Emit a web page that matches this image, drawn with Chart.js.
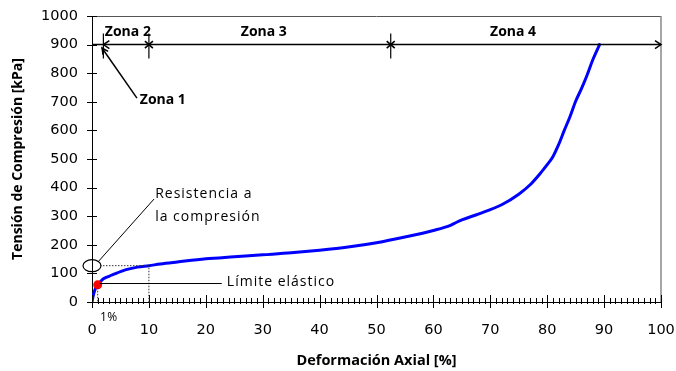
<!DOCTYPE html>
<html><head><meta charset="utf-8">
<script src="https://cdn.jsdelivr.net/npm/chart.js@4.4.0/dist/chart.umd.min.js"></script>
<style>html,body{margin:0;padding:0;background:#fff;}canvas{display:block;}</style>
</head><body>
<canvas id="c" width="676" height="371"></canvas>
<script>
// ---- data ----
const strainX = [0, 0.2, 0.5, 1, 1.5, 2, 3, 4, 5, 6, 8, 10, 12, 15, 20, 25, 30, 35, 40, 45, 50, 55, 60, 63, 64, 65, 68, 72, 75, 77, 79, 80, 81, 82, 83, 84, 85, 86, 87, 88, 89.3];
const stressY = [0, 20, 42, 60, 72, 81, 90, 98, 106, 113, 122, 127, 133, 140, 151, 158, 165, 172, 181, 192, 207, 227, 250, 268, 278, 287, 308, 340, 377, 410, 455, 480, 508, 550, 600, 648, 702, 745, 793, 846, 904];
const elasticLimit = [{x: 1, y: 60}];
const xTickValues = [0, 10, 20, 30, 40, 50, 60, 70, 80, 90, 100];
const yTickValues = [0, 100, 200, 300, 400, 500, 600, 700, 800, 900, 1000];
const zoneBounds = [0, 2, 10, 52.5, 100];
const zoneLevel = 900;
const zoneLabels = ['Zona 1', 'Zona 2', 'Zona 3', 'Zona 4'];
const zoneLabelX = [8.4, 6.3, 30.2, 74];
const zoneLabelY = [706, 944, 944, 944];
const zone1Arrow = [{x: 7.9, y: 713}, {x: 1.76, y: 888}];
const strength = {x: 10, y: 127};
const strengthLeader = [{x: 1.05, y: 140}, {x: 10.9, y: 360}];
const strengthText = ['Resistencia a', 'la compresión'];
const strengthTextPos = [{x: 11.1, y: 378}, {x: 11.1, y: 297}];
const elasticLeader = [{x: 1.4, y: 68}, {x: 22.8, y: 68}];
const elasticText = 'Límite elástico';
const elasticTextPos = {x: 23.7, y: 70};
const onePercentText = '1%';

const annot = {
  id: 'annot',
  afterDatasetsDraw(chart) {
    const {ctx, chartArea: a, scales: {x, y}} = chart;
    const X = v => x.getPixelForValue(v), Y = v => y.getPixelForValue(v);
    ctx.save();
    // frame top & right
    ctx.lineWidth = 1;
    ctx.strokeStyle = '#555';
    ctx.beginPath(); ctx.moveTo(a.left, a.top + 0.5); ctx.lineTo(a.right, a.top + 0.5); ctx.stroke();
    ctx.strokeStyle = '#888';
    ctx.lineWidth = 1.5;
    ctx.beginPath(); ctx.moveTo(a.right, a.top); ctx.lineTo(a.right, a.bottom); ctx.stroke();
    // axis ticks
    ctx.strokeStyle = '#000'; ctx.lineWidth = 1;
    yTickValues.forEach(v => {
      const py = Math.round(Y(v)) + 0.5;
      ctx.beginPath(); ctx.moveTo(a.left - 5, py); ctx.lineTo(a.left + 5, py); ctx.stroke();
    });
    for (let v = 0; v <= 100; v++) {
      const px = Math.round(X(v)) + 0.5;
      const major = v % 10 === 0;
      ctx.beginPath();
      ctx.moveTo(px, a.bottom - (major ? 7 : 4));
      ctx.lineTo(px, a.bottom + (major ? 6 : 2));
      ctx.stroke();
    }
    // zone line
    const zy = Y(zoneLevel);
    ctx.lineWidth = 1.5;
    ctx.beginPath(); ctx.moveTo(X(0), zy); ctx.lineTo(X(100), zy); ctx.stroke();
    ctx.beginPath(); ctx.moveTo(X(100) - 6, zy - 4); ctx.lineTo(X(100), zy); ctx.lineTo(X(100) - 6, zy + 4); ctx.stroke();
    const x2 = X(zoneBounds[1]);
    ctx.beginPath(); ctx.moveTo(x2 + 6, zy - 4); ctx.lineTo(x2, zy); ctx.lineTo(x2 + 6, zy + 4); ctx.stroke();
    ctx.lineWidth = 1.2;
    [1, 2, 3].forEach(i => {
      const px = X(zoneBounds[i]);
      ctx.beginPath(); ctx.moveTo(px, zy - 11); ctx.lineTo(px, zy + 14); ctx.stroke();
      if (i > 1) {
        ctx.lineWidth = 1.6;
        ctx.beginPath();
        ctx.moveTo(px - 4, zy - 3.5); ctx.lineTo(px + 4, zy + 3.5);
        ctx.moveTo(px + 4, zy - 3.5); ctx.lineTo(px - 4, zy + 3.5);
        ctx.stroke();
        ctx.lineWidth = 1.2;
      }
    });
    // zone 1 arrow
    const p0 = {x: X(zone1Arrow[0].x), y: Y(zone1Arrow[0].y)};
    const p1 = {x: X(zone1Arrow[1].x), y: Y(zone1Arrow[1].y)};
    ctx.lineWidth = 1.5;
    ctx.beginPath(); ctx.moveTo(p0.x, p0.y); ctx.lineTo(p1.x, p1.y); ctx.stroke();
    const ang = Math.atan2(p1.y - p0.y, p1.x - p0.x);
    ctx.beginPath();
    ctx.moveTo(p1.x - 7 * Math.cos(ang - 0.45), p1.y - 7 * Math.sin(ang - 0.45));
    ctx.lineTo(p1.x, p1.y);
    ctx.lineTo(p1.x - 7 * Math.cos(ang + 0.45), p1.y - 7 * Math.sin(ang + 0.45));
    ctx.stroke();
    // zone labels
    ctx.fillStyle = '#000';
    ctx.font = 'bold 14px "Open Sans"';
    ctx.textBaseline = 'middle';
    zoneLabels.forEach((t, i) => {
      ctx.textAlign = i === 0 ? 'left' : 'center';
      ctx.fillText(t, X(zoneLabelX[i]), Y(zoneLabelY[i]));
    });
    // strength ellipse & leader
    ctx.lineWidth = 1.2;
    ctx.beginPath(); ctx.ellipse(X(0), Y(strength.y), 9, 6, 0, 0, Math.PI * 2); ctx.stroke();
    ctx.lineWidth = 1;
    ctx.beginPath();
    ctx.moveTo(X(strengthLeader[0].x), Y(strengthLeader[0].y));
    ctx.lineTo(X(strengthLeader[1].x), Y(strengthLeader[1].y));
    ctx.stroke();
    // dotted guides
    ctx.setLineDash([1.5, 1.5]);
    ctx.strokeStyle = '#333';
    ctx.beginPath();
    ctx.moveTo(X(1.4), Y(strength.y)); ctx.lineTo(X(strength.x), Y(strength.y)); ctx.lineTo(X(strength.x), Y(0));
    ctx.moveTo(X(elasticLimit[0].x), Y(elasticLimit[0].y)); ctx.lineTo(X(elasticLimit[0].x), Y(0));
    ctx.stroke();
    ctx.setLineDash([]);
    ctx.strokeStyle = '#000';
    ctx.beginPath();
    ctx.moveTo(X(elasticLeader[0].x), Math.round(Y(elasticLeader[0].y)) + 0.5);
    ctx.lineTo(X(elasticLeader[1].x), Math.round(Y(elasticLeader[1].y)) + 0.5);
    ctx.stroke();
    // texts
    ctx.font = '14px "Open Sans"';
    ctx.letterSpacing = '1px';
    ctx.textAlign = 'left';
    strengthText.forEach((t, i) => ctx.fillText(t, X(strengthTextPos[i].x), Y(strengthTextPos[i].y)));
    ctx.fillText(elasticText, X(elasticTextPos.x), Y(elasticTextPos.y));
    ctx.font = '12px "Open Sans"';
    ctx.letterSpacing = '0.5px';
    ctx.fillText(onePercentText, X(1.4), Y(0) + 16);
    ctx.restore();
  }
};

new Chart(document.getElementById('c'), {
  data: {
    datasets: [
      {type: 'scatter', data: elasticLimit, pointRadius: 4.5, pointBackgroundColor: '#ff0000', pointBorderWidth: 0},
      {type: 'line', data: strainX.map((v, i) => ({x: v, y: stressY[i]})), borderColor: '#0000ff', borderWidth: 3, pointRadius: 0, cubicInterpolationMode: 'monotone', fill: false}
    ]
  },
  options: {
    responsive: false, animation: false, devicePixelRatio: 1,
    layout: {padding: {top: 16, right: 15, left: 0, bottom: 0}},
    plugins: {legend: {display: false}, tooltip: {enabled: false}},
    scales: {
      x: {
        type: 'linear', min: 0, max: 100,
        afterBuildTicks: s => { s.ticks = xTickValues.map(v => ({value: v})); },
        afterFit: s => { s.height = 69; s.paddingLeft = 0; s.paddingRight = 0; s.paddingTop = 0; s.paddingBottom = 0; },
        grid: {display: false, drawTicks: false, tickLength: 0},
        border: {display: true, color: '#000', width: 1},
        ticks: {padding: 20, color: '#000', font: {family: 'DejaVu Sans', size: 14.5}, maxRotation: 0, autoSkip: false, callback: v => String(v)},
        title: {display: true, text: 'Deformación Axial [%]', color: '#000', font: {family: 'Open Sans', size: 14.5, weight: 'bold'}, padding: {top: 0, bottom: 1}}
      },
      y: {
        type: 'linear', min: 0, max: 1000,
        afterBuildTicks: s => { s.ticks = yTickValues.map(v => ({value: v})); },
        afterFit: s => { s.width = 92; s.paddingLeft = 0; s.paddingRight = 0; s.paddingTop = 0; s.paddingBottom = 0; },
        grid: {display: false, drawTicks: false, tickLength: 0},
        border: {display: true, color: '#000', width: 1},
        ticks: {padding: 14, color: '#000', font: {family: 'DejaVu Sans', size: 14.5}, autoSkip: false, callback: v => String(v)},
        title: {display: true, text: 'Tensión de Compresión [kPa]', color: '#000', font: {family: 'Open Sans', size: 14, weight: 'bold'}, padding: {top: 10, bottom: 0}}
      }
    }
  },
  plugins: [annot]
});
</script>
</body></html>
